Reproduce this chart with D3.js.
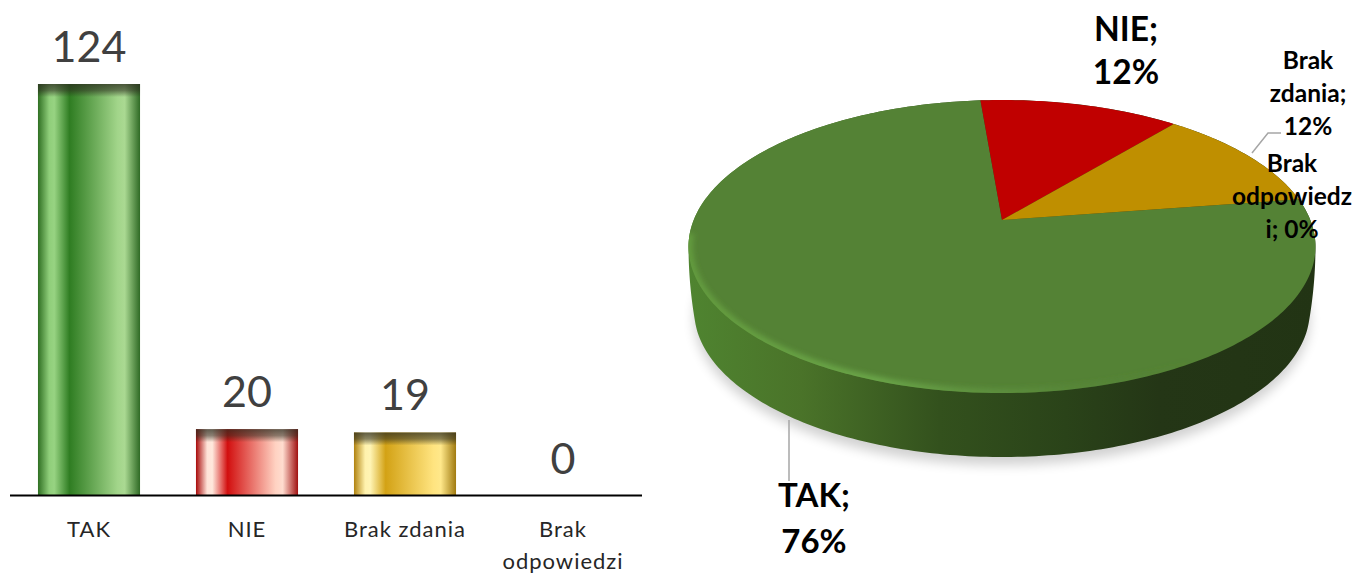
<!DOCTYPE html>
<html><head><meta charset="utf-8">
<script src="https://cdnjs.cloudflare.com/ajax/libs/d3/7.8.5/d3.min.js"></script>
<style>html,body{margin:0;background:#fff}svg{display:block}text{font-family:Lato,"Open Sans",sans-serif}</style>
</head><body><div id="c"></div>
<script>
const categories=["TAK","NIE","Brak zdania","Brak odpowiedzi"];
const values=[124,20,19,0];
const piePercent=["76%","12%","12%","0%"];
const ramps=[
 ["#2f6f22","#8fce7a","#97d382","#2f7d22","#a2d58a","#aad992","#2f6a25"],
 ["#a80a0a","#ffe3d8","#ffe8dc","#d20f0f","#ffd2c2","#ffdccf","#a01010"],
 ["#b0820f","#fff2ad","#fff4b4","#d3a215","#ffe480","#ffe88a","#a07a10"]];
const W=1357,H=574;
const svg=d3.select("#c").append("svg").attr("width",W).attr("height",H);
const defs=svg.append("defs");
const xBand=d3.scaleBand().domain(categories).range([10,642]).paddingInner(.354).paddingOuter(.177);
const yVal=d3.scaleLinear().domain([0,124]).range([495.5,84]);
const stops=[0,.11,.16,.31,.78,.85,1];
ramps.forEach((r,i)=>{
 const g=defs.append("linearGradient").attr("id","bar"+i);
 r.forEach((c,j)=>g.append("stop").attr("offset",stops[j]).attr("stop-color",c));
});
const capGrad=defs.append("linearGradient").attr("id","cap").attr("x2",0).attr("y2",1);
capGrad.append("stop").attr("offset",0).attr("stop-color","#2b2b1e").attr("stop-opacity",.75);
capGrad.append("stop").attr("offset",.5).attr("stop-color","#2b2b1e").attr("stop-opacity",.55);
capGrad.append("stop").attr("offset",1).attr("stop-color","#2b2b1e").attr("stop-opacity",0);
const barData=categories.map((c,i)=>({c,i,v:values[i]})).filter(d=>d.v>0);
const bars=svg.append("g").selectAll("g").data(barData).join("g");
bars.append("rect")
 .attr("x",d=>xBand(d.c)).attr("width",xBand.bandwidth())
 .attr("y",d=>yVal(d.v)).attr("height",d=>yVal(0)-yVal(d.v))
 .attr("fill",d=>`url(#bar${d.i})`);
bars.append("rect")
 .attr("x",d=>xBand(d.c)).attr("width",xBand.bandwidth())
 .attr("y",d=>yVal(d.v)).attr("height",13).attr("fill","url(#cap)");
svg.append("line").attr("x1",10).attr("x2",642).attr("y1",yVal(0)).attr("y2",yVal(0)).attr("stroke","#000").attr("stroke-width",2);
svg.append("g").selectAll("text").data(values).join("text")
 .attr("x",(d,i)=>xBand(categories[i])+xBand.bandwidth()/2)
 .attr("y",d=>yVal(d)-22).attr("text-anchor","middle")
 .attr("font-size",43).attr("fill","#404040").text(d=>d);
svg.append("g").selectAll("text").data(categories).join("text")
 .attr("text-anchor","middle").attr("font-size",22).attr("letter-spacing",1).attr("fill","#262626")
 .each(function(d){
  const mid=xBand(d)+xBand.bandwidth()/2;
  const lines=d==="Brak odpowiedzi"?["Brak","odpowiedzi"]:[d];
  d3.select(this).selectAll("tspan").data(lines).join("tspan").attr("x",mid).attr("y",(l,i)=>537+i*32).text(l=>l);
 });

// Pie seen in perspective: unit circle mapped to the page by a projective map
const pcx=1002,pcy=220,b=308.3,k=-0.181,a=141.7,depth=64;
const proj=(t,dz=0,s=1)=>{
 const ux=Math.sin(t),uy=-Math.cos(t),w=1+k*uy;
 return [pcx+s*b*ux/w,pcy+a*uy/w+dz];
};
const TAU=2*Math.PI,start=81.4*Math.PI/180;
const pie=d3.pie().sort(null).startAngle(start).endAngle(start+TAU)(values);
const line=d3.line();
const sample=(t0,t1,dz=0,s=1)=>{const n=Math.max(2,Math.ceil(Math.abs(t1-t0)*60));return d3.range(n+1).map(i=>proj(t0+(t1-t0)*i/n,dz,s));};
const sliceColors=["#548235","#c00000","#bf8f00","#a5a5a5"];
const g2=svg.append("g");
const mkBlur=(id,sd)=>defs.append("filter").attr("id",id).attr("x","-10%").attr("y","-10%").attr("width","120%").attr("height","120%").append("feGaussianBlur").attr("stdDeviation",sd);
mkBlur("sh",6);mkBlur("soft",2.4);
const shoulder=dz=>1-.018*Math.pow(dz/depth,2);
g2.append("path").attr("d",line(sample(0,TAU,72,shoulder(depth)))+"Z").attr("fill","#000").attr("opacity",.18).attr("filter","url(#sh)");
const wg=defs.append("linearGradient").attr("id","wall").attr("gradientUnits","userSpaceOnUse").attr("x1",689).attr("x2",1316).attr("y1",0).attr("y2",0);
[[0,"#4f8430"],[.18,"#4a7329"],[.4,"#33511d"],[.6,"#2a4319"],[.75,"#243616"],[1,"#223414"]].forEach(s=>wg.append("stop").attr("offset",s[0]).attr("stop-color",s[1]));
// wall = union of stacked rims, which gives the rounded shoulder of the disc
const layers=d3.range(0,depth+1,2);
g2.append("path").attr("fill","url(#wall)")
 .attr("d",layers.map(dz=>line(sample(0,TAU,dz,shoulder(dz)))+"Z").join(""));
pie.forEach((s,i)=>{
 if(s.endAngle-s.startAngle<=0)return;
 g2.append("path").attr("d",line([[pcx,pcy]].concat(sample(s.startAngle,s.endAngle)))+"Z").attr("fill",sliceColors[i]);
});
defs.append("clipPath").attr("id","topclip").append("path").attr("d",line(sample(0,TAU))+"Z");
const hl=defs.append("linearGradient").attr("id","hl").attr("gradientUnits","userSpaceOnUse").attr("x1",689).attr("x2",1316).attr("y1",0).attr("y2",0);
[[0,"#66a040",.8],[.3,"#6aa548",1],[.55,"#5e9140",.55],[.8,"#548235",0]].forEach(s=>hl.append("stop").attr("offset",s[0]).attr("stop-color",s[1]).attr("stop-opacity",s[2]));
g2.append("g").attr("clip-path","url(#topclip)").append("path")
 .attr("d",line(sample(Math.PI*.55,Math.PI*1.47))).attr("fill","none").attr("stroke","url(#hl)").attr("stroke-width",9).attr("filter","url(#soft)");
const leader=[[[789,420],[789,481]],[[1252,153],[1268,133],[1281,133]]];
svg.append("g").selectAll("path").data(leader).join("path").attr("d",d=>line(d)).attr("fill","none").attr("stroke","#a6a6a6").attr("stroke-width",1.5);
const pieLabels=[
 {lines:["TAK;",piePercent[0]],x:814,y:507,size:33,lh:46},
 {lines:["NIE;",piePercent[1]],x:1126,y:41,size:33.5,lh:43},
 {lines:["Brak","zdania;",piePercent[2]],x:1308,y:69,size:24.5,lh:33},
 {lines:["Brak","odpowiedz","i; "+piePercent[3]],x:1292,y:172,size:24.5,lh:33}];
svg.append("g").selectAll("text").data(pieLabels).join("text")
 .attr("text-anchor","middle").attr("font-weight",700).attr("fill","#000").attr("font-size",d=>d.size)
 .each(function(d){d3.select(this).selectAll("tspan").data(d.lines).join("tspan").attr("x",d.x).attr("y",(l,i)=>d.y+i*d.lh).text(l=>l);});
</script></body></html>
